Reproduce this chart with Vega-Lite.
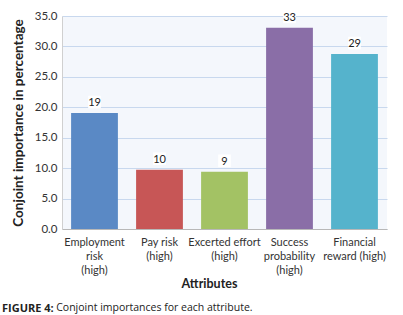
{
  "$schema": "https://vega.github.io/schema/vega-lite/v6.json",
  "width": 325,
  "height": 213,
  "autosize": "none",
  "padding": {"left": 62, "top": 16, "right": 16, "bottom": 86},
  "background": "white",
  "config": {
    "font": "Lato",
    "view": {"fill": "#f4f7fc", "stroke": null}
  },
  "title": {
    "text": "FIGURE 4:",
    "subtitle": "\u200b\u2003\u2003\u2003\u2003\u2002\u2002\u2009Conjoint importances for each attribute.",
    "orient": "bottom",
    "anchor": "start",
    "frame": "group",
    "dx": -60,
    "offset": 13,
    "font": "Open Sans",
    "fontSize": 11,
    "fontWeight": "bold",
    "color": "#222222",
    "subtitleFont": "Open Sans",
    "subtitleFontSize": 10.5,
    "subtitleColor": "#222222",
    "subtitlePadding": -11
  },
  "data": {
    "values": [
      {"attribute": "Employment risk (high)", "importance": 19.05, "label": "19", "color": "#5a89c5"},
      {"attribute": "Pay risk (high)", "importance": 9.75, "label": "10", "color": "#c75656"},
      {"attribute": "Excerted effort (high)", "importance": 9.4, "label": "9", "color": "#a3c264"},
      {"attribute": "Success probability (high)", "importance": 33.05, "label": "33", "color": "#8a6ea7"},
      {"attribute": "Financial reward (high)", "importance": 28.75, "label": "29", "color": "#55b3cc"}
    ]
  },
  "encoding": {
    "x": {
      "field": "attribute",
      "type": "nominal",
      "sort": null,
      "scale": {"paddingInner": 0.28, "paddingOuter": 0.14},
      "axis": {
        "title": "Attributes",
        "titleFont": "Lato",
        "titleFontSize": 12.5,
        "titleFontWeight": "bold",
        "titleColor": "#222222",
        "titlePadding": 2,
        "titleX": 147,
        "labelAngle": 0,
        "labelFont": "Lato",
        "labelFontSize": 11,
        "labelColor": "#333333",
        "labelLineHeight": 14,
        "labelPadding": 7,
        "labelLimit": 0,
        "ticks": false,
        "domainColor": "#b8b8b8",
        "labelExpr": "datum.value == 'Employment risk (high)' ? ['Employment','risk','(high)'] : datum.value == 'Pay risk (high)' ? ['Pay risk','(high)'] : datum.value == 'Excerted effort (high)' ? ['Excerted effort','(high)'] : datum.value == 'Success probability (high)' ? ['Success','probability','(high)'] : ['Financial','reward (high)']"
      }
    },
    "y": {
      "field": "importance",
      "type": "quantitative",
      "scale": {"domain": [0, 35], "nice": false},
      "axis": {
        "title": "Conjoint importance in percentage",
        "titleFont": "Lato",
        "titleFontSize": 13.5,
        "titleFontWeight": "bold",
        "titleColor": "#222222",
        "titlePadding": 9,
        "values": [0, 5, 10, 15, 20, 25, 30, 35],
        "format": ".1f",
        "labelOverlap": false,
        "labelFont": "Lato",
        "labelFontSize": 11.5,
        "labelColor": "#333333",
        "labelPadding": 5,
        "ticks": false,
        "domainColor": "#d0d0d0",
        "gridColor": "#c8d8ee",
        "gridWidth": 1
      }
    }
  },
  "layer": [
    {
      "mark": {"type": "bar"},
      "encoding": {
        "color": {"field": "color", "type": "nominal", "scale": null, "legend": null}
      }
    },
    {
      "mark": {"type": "point", "shape": "square", "filled": true, "color": "white", "opacity": 1, "size": 160, "yOffset": -11},
      "encoding": {}
    },
    {
      "mark": {"type": "text", "baseline": "bottom", "dy": -5, "font": "Lato", "fontSize": 11, "color": "#222222"},
      "encoding": {
        "text": {"field": "label"}
      }
    }
  ]
}
